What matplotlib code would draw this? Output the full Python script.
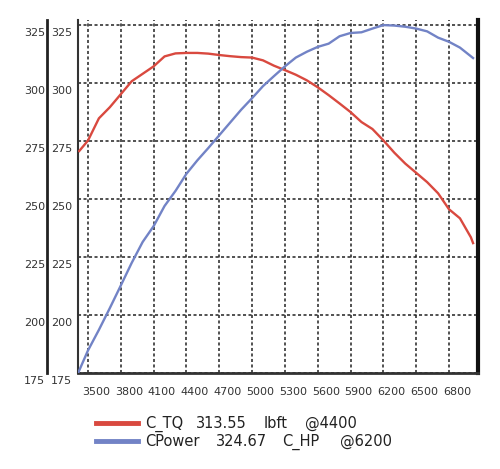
import matplotlib.pyplot as plt
import matplotlib.transforms as mtransforms
from matplotlib.lines import Line2D

plt.rcParams['font.family'] = ['DejaVu Sans']

# torque curve (lbft)
tq_rpm = [3420, 3500, 3600, 3700, 3800, 3900, 4000, 4100, 4200, 4300, 4400,
          4500, 4600, 4700, 4800, 4900, 5000, 5100, 5200, 5300, 5400, 5500,
          5600, 5700, 5800, 5900, 6000, 6100, 6200, 6300, 6400, 6500, 6600,
          6700, 6800, 6900, 7000, 7020]
tq_val = [270.7, 275.2, 284.8, 289.6, 295.2, 300.8, 304.0, 307.2, 311.5, 312.8, 313.0,
          313.0, 312.7, 312.1, 311.6, 311.2, 311.0, 309.8, 307.5, 305.6, 303.6, 301.2,
          298.2, 294.8, 291.2, 287.5, 283.2, 280.2, 275.3, 270.0, 265.3, 261.3, 257.3,
          252.5, 245.6, 241.7, 233.5, 231.0]

# power curve (C_HP)
hp_rpm = [3410, 3500, 3600, 3700, 3800, 3900, 4000, 4100, 4200, 4300, 4400,
          4500, 4600, 4700, 4800, 4900, 5000, 5100, 5200, 5300, 5400, 5500,
          5600, 5700, 5800, 5900, 6000, 6100, 6200, 6300, 6400, 6500, 6600,
          6700, 6800, 6900, 7020]
hp_val = [175.0, 184.7, 193.6, 203.0, 212.7, 222.5, 231.5, 238.3, 247.0, 253.5, 260.9,
          266.7, 272.0, 277.5, 283.0, 288.5, 293.5, 298.7, 303.0, 307.2, 311.0, 313.5,
          315.6, 317.0, 320.2, 321.6, 321.9, 323.5, 325.0, 324.8, 324.3, 323.5, 322.3,
          319.6, 317.8, 315.3, 310.8]

x_ticks = [3500, 3800, 4100, 4400, 4700, 5000, 5300, 5600, 5900, 6200, 6500, 6800]
y_ticks = [175, 200, 225, 250, 275, 300, 325]

legend_words = [["C_TQ", "313.55", "lbft", "@4400"],
                ["CPower", "324.67", "C_HP", "@6200"]]

red = "#d9493f"
blue = "#7283c6"

fig = plt.figure(figsize=(5, 4.69), dpi=100)
ax = fig.add_axes([78 / 500, 1 - 373 / 469, 400 / 500, 353 / 469])

ax.plot(tq_rpm, tq_val, color=red, lw=1.7, zorder=3)
ax.plot(hp_rpm, hp_val, color=blue, lw=1.7, zorder=3)

ax.set_xlim(3409, 7065)
ax.set_ylim(175, 327.2)
ax.set_xticks(x_ticks)
ax.set_yticks(y_ticks)
ax.grid(True, color="#222222", linestyle=(0, (2, 1.6)), lw=1.1)

ax.spines["top"].set_visible(False)
ax.spines["left"].set_color("#333333")
ax.spines["left"].set_linewidth(1.5)
ax.spines["bottom"].set_color("#333333")
ax.spines["bottom"].set_linewidth(2)
ax.spines["right"].set_color("#111111")
ax.spines["right"].set_linewidth(3)
ax.tick_params(length=0, labelsize=8, colors="#333333")
ax.tick_params(axis="x", pad=10)
ax.tick_params(axis="y", pad=4)

# outer y axis, same scale
ax2 = ax.twinx()
ax2.set_ylim(ax.get_ylim())
ax2.set_yticks(y_ticks)
ax2.yaxis.set_ticks_position("left")
ax2.yaxis.set_label_position("left")
for s in ["top", "right", "bottom"]:
    ax2.spines[s].set_visible(False)
ax2.spines["left"].set_position(("outward", 22.3))
ax2.spines["left"].set_linewidth(2)
ax2.spines["left"].set_color("#222222")
ax2.tick_params(length=0, labelsize=8, colors="#333333", pad=1.5)

shift_y = mtransforms.ScaledTranslation(0, -0.07, fig.dpi_scale_trans)
for lab in ax.get_yticklabels() + ax2.get_yticklabels():
    lab.set_transform(lab.get_transform() + shift_y)
shift_x = mtransforms.ScaledTranslation(0.08, 0, fig.dpi_scale_trans)
for lab in ax.get_xticklabels():
    lab.set_transform(lab.get_transform() + shift_x)

# legend below, words placed in loose columns
word_x = [[145, 196, 264, 305], [145, 216, 282, 340]]
for i, (words, col) in enumerate(zip(legend_words, [red, blue])):
    yy = 1 - (423 + 18 * i) / 469
    base = 1 - (428 + 18 * i) / 469
    fig.add_artist(Line2D([96 / 500, 138 / 500], [yy, yy], color=col, lw=3.5))
    for w, px in zip(words, word_x[i]):
        fig.text(px / 500, base, w, fontsize=10.5, color="#222222", va="baseline")

fig.savefig("out.png", dpi=100)
